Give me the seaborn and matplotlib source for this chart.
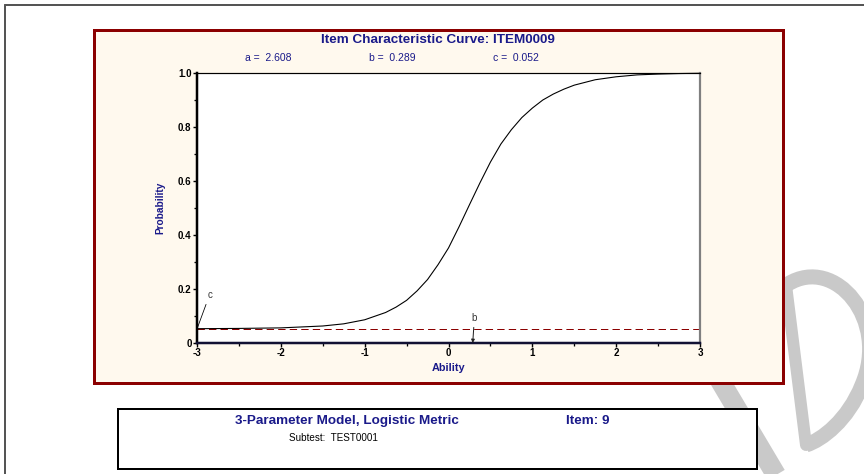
import matplotlib
matplotlib.use("Agg")
import matplotlib.pyplot as plt
from matplotlib.patches import Rectangle, PathPatch
from matplotlib.path import Path
import seaborn as sns
import pandas as pd

# ---- data ----
ability = [-3.0, -2.5, -2.0, -1.5, -1.25, -1.0, -0.75, -0.625, -0.5, -0.375, -0.25,
           -0.125, 0.0, 0.125, 0.25, 0.375, 0.5, 0.625, 0.75, 0.875, 1.0, 1.125, 1.25,
           1.375, 1.5, 1.75, 2.0, 2.25, 2.5, 2.75, 3.0]
probability = [0.053, 0.054, 0.056, 0.063, 0.071, 0.086, 0.113, 0.133, 0.158, 0.193, 0.235,
               0.290, 0.352, 0.430, 0.512, 0.593, 0.670, 0.737, 0.790, 0.835, 0.870, 0.900,
               0.922, 0.940, 0.955, 0.975, 0.986, 0.993, 0.996, 0.998, 0.999]
param_a, param_b, param_c = 2.608, 0.289, 0.052
x_ticks = [-3, -2, -1, 0, 1, 2, 3]
y_ticks = [0, 0.2, 0.4, 0.6, 0.8, 1.0]
y_tick_labels = ["0", "0.2", "0.4", "0.6", "0.8", "1.0"]
item_name = "ITEM0009"
model_text = "3-Parameter Model, Logistic Metric"
item_text = "Item: 9"
subtest_text = "Subtest:  TEST0001"

sns.set_theme(style="white")
plt.rcParams["font.family"] = ["Liberation Sans", "DejaVu Sans"]
plt.rcParams["lines.scale_dashes"] = False

W, H = 864, 474
fig = plt.figure(figsize=(W / 100, H / 100), dpi=100)
fig.patch.set_facecolor("white")
PX = 0.72  # points per pixel
NAVY = "#1a1a8a"

# background overlay in pixel coordinates
bg = fig.add_axes([0, 0, 1, 1])
bg.set_xlim(0, W)
bg.set_ylim(H, 0)
bg.axis("off")
bg.set_zorder(0)

# watermark (light gray stylised letters, partly hidden)
wm = "#c9c9c9"
bg.plot([690, 785], [330, 490], color=wm, lw=20 * PX, solid_capstyle="butt", zorder=1)
bg.plot([786, 806], [285, 445], color=wm, lw=12 * PX, solid_capstyle="round", zorder=1)
verts = [(788, 284), (835, 255), (890, 320), (862, 385), (848, 420), (822, 440), (806, 445)]
codes = [Path.MOVETO, Path.CURVE4, Path.CURVE4, Path.CURVE4, Path.CURVE4, Path.CURVE4, Path.CURVE4]
bg.add_patch(PathPatch(Path(verts, codes), fill=False, edgecolor=wm, lw=15 * PX, zorder=1))

# outer gray frame (top and left visible)
bg.plot([5, W + 5], [5, 5], color="#555555", lw=2 * PX, zorder=2)
bg.plot([5, 5], [5, H + 5], color="#555555", lw=2 * PX, zorder=2)

# cream panel
bg.add_patch(Rectangle((93.5, 29.5), 689, 353, facecolor="#fff9ee", edgecolor="#8b0000",
                       lw=3 * PX, zorder=3))
# bottom info box
bg.add_patch(Rectangle((118, 409), 639, 59.5, facecolor="white", edgecolor="black",
                       lw=2 * PX, zorder=3))

# texts
bg.text(438, 40, f"Item Characteristic Curve: {item_name}", ha="center", va="center",
        fontsize=9.7, fontweight="bold", color=NAVY, zorder=4)
bg.text(245, 58, f"a =  {param_a:.3f}", ha="left", va="center", fontsize=7.5, color=NAVY, zorder=4)
bg.text(369, 58, f"b =  {param_b:.3f}", ha="left", va="center", fontsize=7.5, color=NAVY, zorder=4)
bg.text(493, 58, f"c =  {param_c:.3f}", ha="left", va="center", fontsize=7.5, color=NAVY, zorder=4)
bg.text(235, 421, model_text, ha="left", va="center", fontsize=9.7, fontweight="bold",
        color=NAVY, zorder=4)
bg.text(566, 421, item_text, ha="left", va="center", fontsize=9.7, fontweight="bold",
        color=NAVY, zorder=4)
bg.text(289, 438, subtest_text, ha="left", va="center", fontsize=7.1, color="black", zorder=4)

# main axes
ax = fig.add_axes([197 / W, 1 - 343 / H, (700 - 197) / W, (343 - 73) / H])
ax.set_zorder(5)
ax.set_facecolor("white")
df = pd.DataFrame({"Ability": ability, "Probability": probability})
sns.lineplot(data=df, x="Ability", y="Probability", ax=ax, color="black", lw=1.1 * PX,
             clip_on=False)
ax.axhline(param_c, color="#8b0000", lw=1.0 * PX, dashes=(5.3, 3.0), zorder=1)

ax.set_xlim(-3, 3)
ax.set_ylim(0, 1)
ax.set_xticks(x_ticks)
ax.set_xticklabels([str(t) for t in x_ticks])
ax.set_yticks(y_ticks)
ax.set_yticklabels(y_tick_labels)
ax.set_xticks([-2.5, -1.5, -0.5, 0.5, 1.5, 2.5], minor=True)
ax.set_yticks([0.1, 0.3, 0.5, 0.7, 0.9], minor=True)
ax.tick_params(axis="both", which="major", direction="out", length=4 * PX, width=1.4 * PX,
               color="black", labelsize=7, pad=1.0, left=True, bottom=True)
ax.tick_params(axis="both", which="minor", direction="out", length=3 * PX, width=1.3 * PX,
               color="black", left=True, bottom=True)
for lab in ax.get_xticklabels() + ax.get_yticklabels():
    lab.set_fontweight("bold")
    lab.set_color("black")

for side, col, w in [("left", "black", 2.5), ("bottom", "#111133", 2.5),
                     ("top", "black", 1.2), ("right", "#808080", 2.2)]:
    ax.spines[side].set_visible(True)
    ax.spines[side].set_color(col)
    ax.spines[side].set_linewidth(w * PX)

ax.set_xlabel("Ability", fontsize=7.8, fontweight="bold", color=NAVY, labelpad=3)
ax.set_ylabel("Probability", fontsize=7.3, fontweight="bold", color=NAVY, labelpad=9)

# c and b annotations
ax.annotate("c", xy=(-3, param_c), xytext=(-2.85, 0.16), fontsize=7, color="#333333",
            ha="center", va="bottom",
            arrowprops=dict(arrowstyle="-", color="black", lw=0.8 * PX, shrinkA=1, shrinkB=0))
ax.annotate("b", xy=(param_b, 0), xytext=(param_b + 0.02, 0.075), fontsize=7,
            color="#333333", ha="center", va="bottom",
            arrowprops=dict(arrowstyle="-|>", color="#222222", lw=1.0 * PX, shrinkA=1,
                            shrinkB=0, mutation_scale=5))

fig.savefig("out.png", dpi=100, facecolor="white")
